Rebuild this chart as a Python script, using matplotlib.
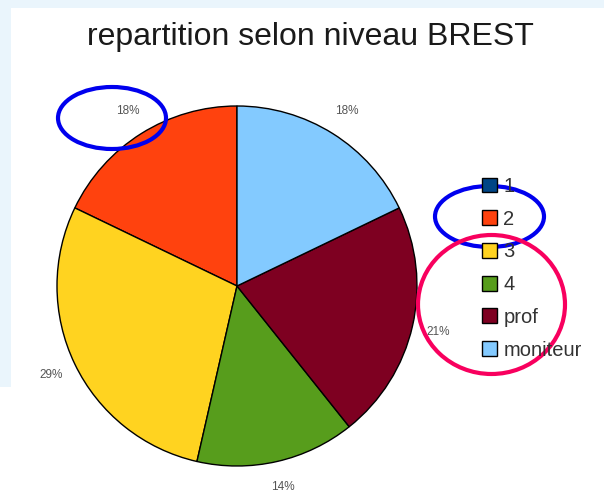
import matplotlib
matplotlib.use('Agg')
import matplotlib.pyplot as plt
from matplotlib import patches

plt.rcParams['font.family'] = ['Liberation Sans', 'DejaVu Sans']

# Data (counts, 28 in total)
niveaux = ['1', '2', '3', '4', 'prof', 'moniteur']
effectifs = [0, 5, 8, 4, 6, 5]
couleurs = ['#004586', '#ff420e', '#ffd320', '#579d1c', '#7e0021', '#83caff']
titre = 'repartition selon niveau BREST'

W, H = 604, 493
fig = plt.figure(figsize=(W / 100, H / 100), dpi=100, facecolor='white')

# Background strips (screenshot border), pixel coordinates
bg = fig.add_axes([0, 0, 1, 1], zorder=0)
bg.set_xlim(0, W)
bg.set_ylim(H, 0)
bg.axis('off')
bg.add_patch(patches.Rectangle((0, 0), W, 8, facecolor='#eaf5fc', edgecolor='none'))
bg.add_patch(patches.Rectangle((0, 0), 11, 387, facecolor='#eaf5fc', edgecolor='none'))

# Pie: centre (237, 286) px, radius 180 px
cx, cy, r = 237, 286, 180
ax = fig.add_axes([(cx - r) / W, (H - cy - r) / H, 2 * r / W, 2 * r / H], zorder=1)


def pct(p):
    return '' if p < 0.5 else '%d%%' % round(p)


wedges, texts, autotexts = ax.pie(effectifs, colors=couleurs, startangle=90, counterclock=True,
                                  autopct=pct, pctdistance=1.145,
                                  wedgeprops=dict(edgecolor='black', linewidth=1.0),
                                  textprops=dict(color='#555555', fontsize=8.5))
ax.set_xlim(-1, 1)
ax.set_ylim(-1, 1)
ax.set_aspect('equal')

# Title
fig.text(310 / W, 1 - 37 / H, titre, ha='center', va='center', fontsize=23, color='#1a1a1a')

# Legend
fs = 14.5
fig.legend(wedges, niveaux, loc='upper left', bbox_to_anchor=(472 / W, 1 - 167 / H),
           frameon=False, fontsize=fs, borderpad=0, handlelength=0.76, handleheight=0.76,
           handletextpad=0.3, labelspacing=0.68, labelcolor='#333333')

# Hand-drawn ellipses on top
ov = fig.add_axes([0, 0, 1, 1], zorder=3)
ov.set_xlim(0, W)
ov.set_ylim(H, 0)
ov.axis('off')
ov.patch.set_alpha(0)
ov.add_patch(patches.Ellipse((112, 118), 108, 62, fill=False, edgecolor='#0000ee', linewidth=3))
ov.add_patch(patches.Ellipse((489.5, 216.5), 109, 61, fill=False, edgecolor='#0000ee', linewidth=3))
ov.add_patch(patches.Ellipse((491.5, 304.5), 147, 139, fill=False, edgecolor='#f8005e', linewidth=3))

fig.savefig('out.png', dpi=100)
